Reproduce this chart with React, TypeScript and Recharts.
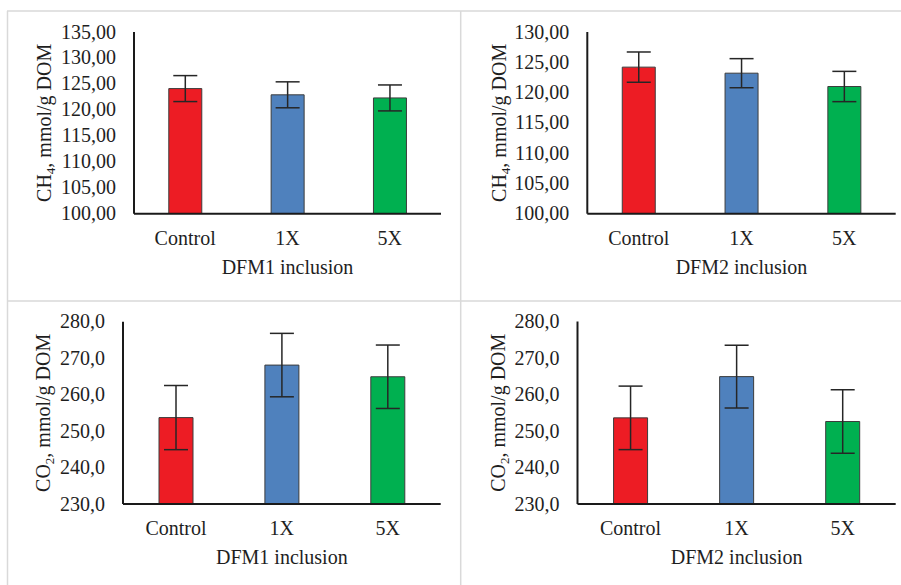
import React from "react";
import { BarChart, Bar, XAxis, YAxis, ErrorBar, Cell } from "recharts";

const categories = ["Control", "1X", "5X"];
const barColors = ["#ED1C24", "#4F81BD", "#00B050"];

const ch4Dfm1Values = [124.1, 122.9, 122.3];
const ch4Dfm1Errors = [2.5, 2.5, 2.5];
const ch4Dfm2Values = [124.2, 123.2, 121.0];
const ch4Dfm2Errors = [2.5, 2.4, 2.5];
const co2Dfm1Values = [253.7, 268.1, 264.9];
const co2Dfm1Errors = [8.8, 8.7, 8.7];
const co2Dfm2Values = [253.6, 264.9, 252.6];
const co2Dfm2Errors = [8.7, 8.6, 8.7];

const ch4Dfm1Ticks = [100, 105, 110, 115, 120, 125, 130, 135];
const ch4Dfm2Ticks = [100, 105, 110, 115, 120, 125, 130];
const co2Ticks = [230, 240, 250, 260, 270, 280];

const FONT = "'Liberation Serif', 'Times New Roman', serif";
const TEXT = "#1e1e1e";
const AXIS = "#1a1a1a";

type Box = { x: number; y: number; w: number; h: number };
type Plot = { l: number; t: number; r: number; b: number };

type PanelProps = {
  box: Box;
  plot: Plot;
  values: number[];
  errors: number[];
  ticks: number[];
  decimals: number;
  gas: string;
  sub: string;
  xTitle: string;
  yTitleGap: number;
};

function Panel({ box, plot, values, errors, ticks, decimals, gas, sub, xTitle, yTitleGap }: PanelProps) {
  const data = categories.map((c, i) => ({ cat: c, value: values[i], err: errors[i] }));
  const yAxisWidth = plot.l - box.x;
  const xAxisHeight = box.y + box.h - plot.b;
  const margin = { top: plot.t - box.y, right: box.x + box.w - plot.r, bottom: 0, left: 0 };

  const renderXTick = (props: any) => (
    <text
      x={props.x}
      y={props.y + 31}
      textAnchor="middle"
      fontFamily={FONT}
      fontSize={20}
      fill={TEXT}
    >
      {props.payload.value}
    </text>
  );

  const renderYTick = (props: any) => (
    <text
      x={props.x - 18}
      y={props.y + 6.5}
      textAnchor="end"
      fontFamily={FONT}
      fontSize={20}
      fill={TEXT}
    >
      {Number(props.payload.value).toFixed(decimals).replace(".", ",")}
    </text>
  );

  const renderXTitle = (props: any) => {
    const vb = props.viewBox || {};
    return (
      <text
        x={vb.x + vb.width / 2}
        y={vb.y + 60}
        textAnchor="middle"
        fontFamily={FONT}
        fontSize={20}
        fill={TEXT}
      >
        {xTitle}
      </text>
    );
  };

  const renderYTitle = (props: any) => {
    const vb = props.viewBox || {};
    const cx = vb.x + vb.width - yTitleGap;
    const cy = vb.y + vb.height / 2;
    return (
      <text
        x={0}
        y={0}
        transform={`translate(${cx}, ${cy}) rotate(-90)`}
        textAnchor="middle"
        fontFamily={FONT}
        fontSize={20}
        fill={TEXT}
      >
        <tspan>{gas}</tspan>
        <tspan dy={4} fontSize={13}>{sub}</tspan>
        <tspan dy={-4}>, mmol/g DOM</tspan>
      </text>
    );
  };

  return (
    <div style={{ position: "absolute", left: box.x, top: box.y }}>
      <BarChart width={box.w} height={box.h} data={data} margin={margin} barCategoryGap="34%">
        <XAxis
          dataKey="cat"
          type="category"
          height={xAxisHeight}
          axisLine={{ stroke: AXIS, strokeWidth: 2 }}
          tickLine={false}
          tickSize={0}
          tickMargin={0}
          interval={0}
          tick={renderXTick}
          label={renderXTitle}
        />
        <YAxis
          type="number"
          domain={[ticks[0], ticks[ticks.length - 1]]}
          ticks={ticks}
          allowDataOverflow
          interval={0}
          width={yAxisWidth}
          axisLine={{ stroke: AXIS, strokeWidth: 2 }}
          tickLine={false}
          tickSize={0}
          tickMargin={0}
          tick={renderYTick}
          label={renderYTitle}
        />
        <Bar dataKey="value" isAnimationActive={false} stroke="#3c3c3c" strokeWidth={1}>
          {data.map((d, i) => (
            <Cell key={d.cat} fill={barColors[i]} />
          ))}
          <ErrorBar dataKey="err" width={12} stroke="#262626" strokeWidth={1.5} isAnimationActive={false} />
        </Bar>
      </BarChart>
    </div>
  );
}

export default function App() {
  const border = "#d9d9d9";
  return (
    <div
      style={{
        position: "absolute",
        left: 0,
        top: 0,
        width: 901,
        height: 585,
        background: "#ffffff",
        overflow: "hidden",
      }}
    >
      <svg width={901} height={585} style={{ position: "absolute", left: 0, top: 0 }}>
        <line x1={7} y1={11} x2={901} y2={11} stroke={border} strokeWidth={1.5} />
        <line x1={7.5} y1={11} x2={7.5} y2={585} stroke={border} strokeWidth={1.5} />
        <line x1={460.7} y1={11} x2={460.7} y2={585} stroke={border} strokeWidth={1.5} />
        <line x1={7} y1={301} x2={901} y2={301} stroke={border} strokeWidth={1.5} />
      </svg>
      <Panel
        box={{ x: 8, y: 12, w: 452, h: 288 }}
        plot={{ l: 134, t: 32, r: 441, b: 213.7 }}
        values={ch4Dfm1Values}
        errors={ch4Dfm1Errors}
        ticks={ch4Dfm1Ticks}
        decimals={2}
        gas="CH"
        sub="4"
        xTitle="DFM1 inclusion"
        yTitleGap={83}
      />
      <Panel
        box={{ x: 462, y: 12, w: 439, h: 288 }}
        plot={{ l: 587.3, t: 32, r: 895.7, b: 213.7 }}
        values={ch4Dfm2Values}
        errors={ch4Dfm2Errors}
        ticks={ch4Dfm2Ticks}
        decimals={2}
        gas="CH"
        sub="4"
        xTitle="DFM2 inclusion"
        yTitleGap={81}
      />
      <Panel
        box={{ x: 8, y: 302, w: 452, h: 283 }}
        plot={{ l: 123, t: 321.7, r: 440.7, b: 504 }}
        values={co2Dfm1Values}
        errors={co2Dfm1Errors}
        ticks={co2Ticks}
        decimals={1}
        gas="CO"
        sub="2"
        xTitle="DFM1 inclusion"
        yTitleGap={73}
      />
      <Panel
        box={{ x: 462, y: 302, w: 439, h: 283 }}
        plot={{ l: 577.5, t: 321.5, r: 895.7, b: 504 }}
        values={co2Dfm2Values}
        errors={co2Dfm2Errors}
        ticks={co2Ticks}
        decimals={1}
        gas="CO"
        sub="2"
        xTitle="DFM2 inclusion"
        yTitleGap={72.5}
      />
    </div>
  );
}
